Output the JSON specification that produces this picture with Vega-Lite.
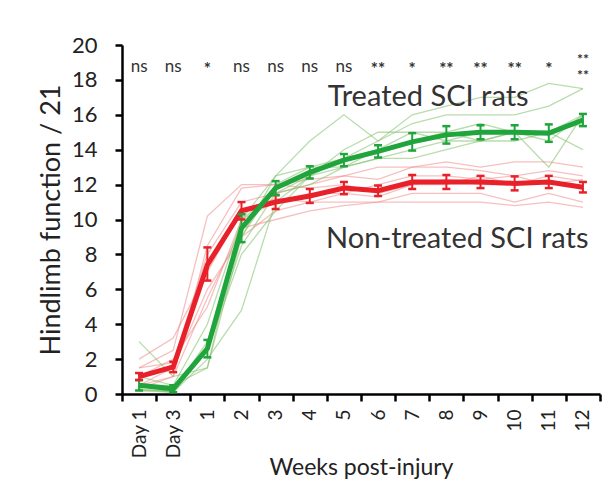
{
  "$schema": "https://vega.github.io/schema/vega-lite/v6.json",
  "width": 478,
  "height": 349,
  "autosize": {"type": "none"},
  "padding": {"left": 122, "top": 45, "right": 5, "bottom": 98},
  "background": "white",
  "config": {
    "font": "Lato",
    "view": {"stroke": null},
    "axis": {"grid": false, "domainColor": "black", "domainWidth": 2.5, "tickColor": "black", "tickWidth": 2.5, "tickSize": 7, "labelColor": "#222", "titleColor": "#222", "titleFontWeight": "normal"},
    "axisY": {"labelFontSize": 22, "labelPadding": 18, "titleFontSize": 27, "titlePadding": 6}
  },
  "resolve": {"scale": {"color": "independent"}},
  "datasets": {
    "ind": [
      {"g":"R","r":1,"t":"Day 1","v":0.5},{"g":"R","r":1,"t":"Day 3","v":1.0},{"g":"R","r":1,"t":"1","v":8.5},{"g":"R","r":1,"t":"2","v":11.8},{"g":"R","r":1,"t":"3","v":12.0},{"g":"R","r":1,"t":"4","v":12.3},{"g":"R","r":1,"t":"5","v":12.5},{"g":"R","r":1,"t":"6","v":12.3},{"g":"R","r":1,"t":"7","v":13.0},{"g":"R","r":1,"t":"8","v":13.0},{"g":"R","r":1,"t":"9","v":12.8},{"g":"R","r":1,"t":"10","v":12.5},{"g":"R","r":1,"t":"11","v":12.8},{"g":"R","r":1,"t":"12","v":12.5},
      {"g":"R","r":2,"t":"Day 1","v":1.5},{"g":"R","r":2,"t":"Day 3","v":2.5},{"g":"R","r":2,"t":"1","v":10.2},{"g":"R","r":2,"t":"2","v":12.0},{"g":"R","r":2,"t":"3","v":12.0},{"g":"R","r":2,"t":"4","v":11.8},{"g":"R","r":2,"t":"5","v":12.0},{"g":"R","r":2,"t":"6","v":11.5},{"g":"R","r":2,"t":"7","v":12.0},{"g":"R","r":2,"t":"8","v":12.0},{"g":"R","r":2,"t":"9","v":12.5},{"g":"R","r":2,"t":"10","v":12.0},{"g":"R","r":2,"t":"11","v":12.5},{"g":"R","r":2,"t":"12","v":12.2},
      {"g":"R","r":3,"t":"Day 1","v":0.5},{"g":"R","r":3,"t":"Day 3","v":1.5},{"g":"R","r":3,"t":"1","v":6.0},{"g":"R","r":3,"t":"2","v":9.0},{"g":"R","r":3,"t":"3","v":10.5},{"g":"R","r":3,"t":"4","v":11.0},{"g":"R","r":3,"t":"5","v":11.0},{"g":"R","r":3,"t":"6","v":11.0},{"g":"R","r":3,"t":"7","v":11.5},{"g":"R","r":3,"t":"8","v":11.5},{"g":"R","r":3,"t":"9","v":11.5},{"g":"R","r":3,"t":"10","v":11.0},{"g":"R","r":3,"t":"11","v":11.5},{"g":"R","r":3,"t":"12","v":11.0},
      {"g":"R","r":4,"t":"Day 1","v":1.0},{"g":"R","r":4,"t":"Day 3","v":2.0},{"g":"R","r":4,"t":"1","v":5.0},{"g":"R","r":4,"t":"2","v":10.0},{"g":"R","r":4,"t":"3","v":11.0},{"g":"R","r":4,"t":"4","v":11.5},{"g":"R","r":4,"t":"5","v":11.5},{"g":"R","r":4,"t":"6","v":12.0},{"g":"R","r":4,"t":"7","v":12.5},{"g":"R","r":4,"t":"8","v":12.5},{"g":"R","r":4,"t":"9","v":12.3},{"g":"R","r":4,"t":"10","v":12.5},{"g":"R","r":4,"t":"11","v":12.0},{"g":"R","r":4,"t":"12","v":12.3},
      {"g":"R","r":5,"t":"Day 1","v":2.0},{"g":"R","r":5,"t":"Day 3","v":3.2},{"g":"R","r":5,"t":"1","v":7.0},{"g":"R","r":5,"t":"2","v":10.5},{"g":"R","r":5,"t":"3","v":11.2},{"g":"R","r":5,"t":"4","v":11.0},{"g":"R","r":5,"t":"5","v":11.5},{"g":"R","r":5,"t":"6","v":11.3},{"g":"R","r":5,"t":"7","v":12.0},{"g":"R","r":5,"t":"8","v":12.3},{"g":"R","r":5,"t":"9","v":12.0},{"g":"R","r":5,"t":"10","v":12.0},{"g":"R","r":5,"t":"11","v":12.2},{"g":"R","r":5,"t":"12","v":11.8},
      {"g":"R","r":6,"t":"Day 1","v":0.3},{"g":"R","r":6,"t":"Day 3","v":1.0},{"g":"R","r":6,"t":"1","v":5.5},{"g":"R","r":6,"t":"2","v":9.5},{"g":"R","r":6,"t":"3","v":10.0},{"g":"R","r":6,"t":"4","v":10.5},{"g":"R","r":6,"t":"5","v":10.8},{"g":"R","r":6,"t":"6","v":11.0},{"g":"R","r":6,"t":"7","v":11.0},{"g":"R","r":6,"t":"8","v":11.0},{"g":"R","r":6,"t":"9","v":11.0},{"g":"R","r":6,"t":"10","v":10.8},{"g":"R","r":6,"t":"11","v":11.0},{"g":"R","r":6,"t":"12","v":10.7},
      {"g":"R","r":7,"t":"Day 1","v":1.5},{"g":"R","r":7,"t":"Day 3","v":1.8},{"g":"R","r":7,"t":"1","v":8.0},{"g":"R","r":7,"t":"2","v":11.0},{"g":"R","r":7,"t":"3","v":11.5},{"g":"R","r":7,"t":"4","v":12.0},{"g":"R","r":7,"t":"5","v":12.5},{"g":"R","r":7,"t":"6","v":13.0},{"g":"R","r":7,"t":"7","v":13.0},{"g":"R","r":7,"t":"8","v":13.3},{"g":"R","r":7,"t":"9","v":13.0},{"g":"R","r":7,"t":"10","v":13.3},{"g":"R","r":7,"t":"11","v":13.3},{"g":"R","r":7,"t":"12","v":13.0},
      {"g":"G","r":1,"t":"Day 1","v":3.0},{"g":"G","r":1,"t":"Day 3","v":1.0},{"g":"G","r":1,"t":"1","v":1.5},{"g":"G","r":1,"t":"2","v":10.0},{"g":"G","r":1,"t":"3","v":12.5},{"g":"G","r":1,"t":"4","v":14.5},{"g":"G","r":1,"t":"5","v":16.0},{"g":"G","r":1,"t":"6","v":14.5},{"g":"G","r":1,"t":"7","v":15.5},{"g":"G","r":1,"t":"8","v":16.0},{"g":"G","r":1,"t":"9","v":16.0},{"g":"G","r":1,"t":"10","v":16.0},{"g":"G","r":1,"t":"11","v":16.5},{"g":"G","r":1,"t":"12","v":17.5},
      {"g":"G","r":2,"t":"Day 1","v":0.3},{"g":"G","r":2,"t":"Day 3","v":0.1},{"g":"G","r":2,"t":"1","v":2.0},{"g":"G","r":2,"t":"2","v":4.8},{"g":"G","r":2,"t":"3","v":11.0},{"g":"G","r":2,"t":"4","v":12.5},{"g":"G","r":2,"t":"5","v":13.0},{"g":"G","r":2,"t":"6","v":14.0},{"g":"G","r":2,"t":"7","v":15.0},{"g":"G","r":2,"t":"8","v":15.0},{"g":"G","r":2,"t":"9","v":15.5},{"g":"G","r":2,"t":"10","v":15.0},{"g":"G","r":2,"t":"11","v":15.0},{"g":"G","r":2,"t":"12","v":14.0},
      {"g":"G","r":3,"t":"Day 1","v":0.2},{"g":"G","r":3,"t":"Day 3","v":0.2},{"g":"G","r":3,"t":"1","v":3.0},{"g":"G","r":3,"t":"2","v":9.0},{"g":"G","r":3,"t":"3","v":12.0},{"g":"G","r":3,"t":"4","v":13.0},{"g":"G","r":3,"t":"5","v":13.5},{"g":"G","r":3,"t":"6","v":14.5},{"g":"G","r":3,"t":"7","v":16.0},{"g":"G","r":3,"t":"8","v":16.5},{"g":"G","r":3,"t":"9","v":17.0},{"g":"G","r":3,"t":"10","v":17.0},{"g":"G","r":3,"t":"11","v":17.8},{"g":"G","r":3,"t":"12","v":17.5},
      {"g":"G","r":4,"t":"Day 1","v":0.5},{"g":"G","r":4,"t":"Day 3","v":0.1},{"g":"G","r":4,"t":"1","v":2.5},{"g":"G","r":4,"t":"2","v":8.5},{"g":"G","r":4,"t":"3","v":11.5},{"g":"G","r":4,"t":"4","v":12.0},{"g":"G","r":4,"t":"5","v":13.0},{"g":"G","r":4,"t":"6","v":13.5},{"g":"G","r":4,"t":"7","v":14.0},{"g":"G","r":4,"t":"8","v":14.5},{"g":"G","r":4,"t":"9","v":15.0},{"g":"G","r":4,"t":"10","v":15.0},{"g":"G","r":4,"t":"11","v":14.5},{"g":"G","r":4,"t":"12","v":16.0},
      {"g":"G","r":5,"t":"Day 1","v":1.0},{"g":"G","r":5,"t":"Day 3","v":0.5},{"g":"G","r":5,"t":"1","v":4.0},{"g":"G","r":5,"t":"2","v":10.0},{"g":"G","r":5,"t":"3","v":11.5},{"g":"G","r":5,"t":"4","v":12.5},{"g":"G","r":5,"t":"5","v":13.5},{"g":"G","r":5,"t":"6","v":14.0},{"g":"G","r":5,"t":"7","v":14.5},{"g":"G","r":5,"t":"8","v":15.0},{"g":"G","r":5,"t":"9","v":14.5},{"g":"G","r":5,"t":"10","v":15.0},{"g":"G","r":5,"t":"11","v":13.0},{"g":"G","r":5,"t":"12","v":16.0},
      {"g":"G","r":6,"t":"Day 1","v":0.2},{"g":"G","r":6,"t":"Day 3","v":0.1},{"g":"G","r":6,"t":"1","v":2.5},{"g":"G","r":6,"t":"2","v":8.0},{"g":"G","r":6,"t":"3","v":10.5},{"g":"G","r":6,"t":"4","v":12.5},{"g":"G","r":6,"t":"5","v":14.0},{"g":"G","r":6,"t":"6","v":15.0},{"g":"G","r":6,"t":"7","v":15.0},{"g":"G","r":6,"t":"8","v":14.5},{"g":"G","r":6,"t":"9","v":14.5},{"g":"G","r":6,"t":"10","v":15.0},{"g":"G","r":6,"t":"11","v":15.0},{"g":"G","r":6,"t":"12","v":15.5},
      {"g":"G","r":7,"t":"Day 1","v":0.5},{"g":"G","r":7,"t":"Day 3","v":0.5},{"g":"G","r":7,"t":"1","v":1.5},{"g":"G","r":7,"t":"2","v":9.0},{"g":"G","r":7,"t":"3","v":12.5},{"g":"G","r":7,"t":"4","v":13.0},{"g":"G","r":7,"t":"5","v":13.0},{"g":"G","r":7,"t":"6","v":13.5},{"g":"G","r":7,"t":"7","v":13.5},{"g":"G","r":7,"t":"8","v":14.0},{"g":"G","r":7,"t":"9","v":14.5},{"g":"G","r":7,"t":"10","v":14.5},{"g":"G","r":7,"t":"11","v":15.0},{"g":"G","r":7,"t":"12","v":16.0}
    ],
    "mean": [
      {"g":"R","t":"Day 1","m":1.0,"lo":0.8,"hi":1.2},{"g":"R","t":"Day 3","m":1.55,"lo":1.25,"hi":1.85},{"g":"R","t":"1","m":7.4,"lo":6.5,"hi":8.4},{"g":"R","t":"2","m":10.5,"lo":10.0,"hi":11.0},{"g":"R","t":"3","m":11.0,"lo":10.6,"hi":11.4},{"g":"R","t":"4","m":11.35,"lo":10.95,"hi":11.75},{"g":"R","t":"5","m":11.8,"lo":11.45,"hi":12.15},{"g":"R","t":"6","m":11.65,"lo":11.35,"hi":11.95},{"g":"R","t":"7","m":12.15,"lo":11.75,"hi":12.55},{"g":"R","t":"8","m":12.15,"lo":11.75,"hi":12.55},{"g":"R","t":"9","m":12.15,"lo":11.8,"hi":12.5},{"g":"R","t":"10","m":12.07,"lo":11.67,"hi":12.47},{"g":"R","t":"11","m":12.15,"lo":11.8,"hi":12.5},{"g":"R","t":"12","m":11.85,"lo":11.55,"hi":12.15},
      {"g":"G","t":"Day 1","m":0.5,"lo":0.2,"hi":0.8},{"g":"G","t":"Day 3","m":0.3,"lo":0.1,"hi":0.5},{"g":"G","t":"1","m":2.6,"lo":2.1,"hi":3.1},{"g":"G","t":"2","m":9.5,"lo":8.7,"hi":10.3},{"g":"G","t":"3","m":11.8,"lo":11.4,"hi":12.2},{"g":"G","t":"4","m":12.7,"lo":12.35,"hi":13.05},{"g":"G","t":"5","m":13.4,"lo":13.05,"hi":13.75},{"g":"G","t":"6","m":13.9,"lo":13.55,"hi":14.25},{"g":"G","t":"7","m":14.45,"lo":13.95,"hi":14.95},{"g":"G","t":"8","m":14.85,"lo":14.35,"hi":15.35},{"g":"G","t":"9","m":15.0,"lo":14.6,"hi":15.4},{"g":"G","t":"10","m":15.0,"lo":14.6,"hi":15.4},{"g":"G","t":"11","m":14.95,"lo":14.45,"hi":15.45},{"g":"G","t":"12","m":15.7,"lo":15.35,"hi":16.05}
    ],
    "sig": [
      {"t":"Day 1","s":"ns"},{"t":"Day 3","s":"ns"},{"t":"1","s":"*"},{"t":"2","s":"ns"},{"t":"3","s":"ns"},{"t":"4","s":"ns"},{"t":"5","s":"ns"},{"t":"6","s":"**"},{"t":"7","s":"*"},{"t":"8","s":"**"},{"t":"9","s":"**"},{"t":"10","s":"**"},{"t":"11","s":"*"},{"t":"12","s":"**\n**"}
    ],
    "labels": [
      {"t":"7","y":17.0,"txt":"Treated SCI rats","dx":33},
      {"t":"8","y":8.9,"txt":"Non-treated SCI rats","dx":28}
    ]
  },
  "layer": [
    {
      "data": {"name": "ind"},
      "mark": {"type": "line", "strokeWidth": 1.3, "opacity": 0.55},
      "encoding": {
        "x": {"field": "t", "type": "ordinal", "bandPosition": 0.5,
              "sort": ["Day 1","Day 3","1","2","3","4","5","6","7","8","9","10","11","12"],
              "scale": {"type": "band", "paddingInner": 0, "paddingOuter": 0},
              "axis": {"title": "Weeks post-injury", "titleFontSize": 23, "titlePadding": -2, "labelAngle": -90, "labelFontSize": 19, "labelPadding": 8, "tickBand": "extent"}},
        "y": {"field": "v", "type": "quantitative",
              "scale": {"domain": [0, 20], "nice": false},
              "axis": {"title": "Hindlimb function / 21", "tickCount": 10, "labelOverlap": false, "labelSeparation": 0}},
        "detail": {"field": "r"},
        "color": {"field": "g", "type": "nominal", "scale": {"domain": ["R","G"], "range": ["#f08a8a","#7fbf6a"]}, "legend": null}
      }
    },
    {
      "data": {"name": "mean"},
      "mark": {"type": "rule", "strokeWidth": 2},
      "encoding": {
        "x": {"field": "t", "type": "ordinal", "bandPosition": 0.5, "sort": ["Day 1","Day 3","1","2","3","4","5","6","7","8","9","10","11","12"]},
        "y": {"field": "lo", "type": "quantitative"},
        "y2": {"field": "hi"},
        "color": {"field": "g", "type": "nominal", "scale": {"domain": ["R","G"], "range": ["#e8202a","#1fa53c"]}, "legend": null}
      }
    },
    {
      "data": {"name": "mean"},
      "mark": {"type": "line", "strokeWidth": 5, "color": "#e8202a"},
      "transform": [{"filter": "datum.g == 'R'"}],
      "encoding": {
        "x": {"field": "t", "type": "ordinal", "bandPosition": 0.5, "sort": ["Day 1","Day 3","1","2","3","4","5","6","7","8","9","10","11","12"]},
        "y": {"field": "m", "type": "quantitative"}
      }
    },
    {
      "data": {"name": "mean"},
      "mark": {"type": "line", "strokeWidth": 5, "color": "#1fa53c"},
      "transform": [{"filter": "datum.g == 'G'"}],
      "encoding": {
        "x": {"field": "t", "type": "ordinal", "bandPosition": 0.5, "sort": ["Day 1","Day 3","1","2","3","4","5","6","7","8","9","10","11","12"]},
        "y": {"field": "m", "type": "quantitative"}
      }
    },
    {
      "data": {"name": "mean"},
      "mark": {"type": "tick", "orient": "horizontal", "size": 8, "thickness": 2.5, "opacity": 1},
      "encoding": {
        "x": {"field": "t", "type": "ordinal", "bandPosition": 0.5, "sort": ["Day 1","Day 3","1","2","3","4","5","6","7","8","9","10","11","12"]},
        "y": {"field": "hi", "type": "quantitative"},
        "color": {"field": "g", "type": "nominal", "scale": {"domain": ["R","G"], "range": ["#e8202a","#1fa53c"]}, "legend": null}
      }
    },
    {
      "data": {"name": "mean"},
      "mark": {"type": "tick", "orient": "horizontal", "size": 8, "thickness": 2.5, "opacity": 1},
      "encoding": {
        "x": {"field": "t", "type": "ordinal", "bandPosition": 0.5, "sort": ["Day 1","Day 3","1","2","3","4","5","6","7","8","9","10","11","12"]},
        "y": {"field": "lo", "type": "quantitative"},
        "color": {"field": "g", "type": "nominal", "scale": {"domain": ["R","G"], "range": ["#e8202a","#1fa53c"]}, "legend": null}
      }
    },
    {
      "data": {"name": "sig"},
      "transform": [{"filter": "datum.s == 'ns'"}],
      "mark": {"type": "text", "fontSize": 17, "color": "#333", "baseline": "middle"},
      "encoding": {
        "x": {"field": "t", "type": "ordinal", "bandPosition": 0.5, "sort": ["Day 1","Day 3","1","2","3","4","5","6","7","8","9","10","11","12"]},
        "y": {"datum": 18.75, "type": "quantitative"},
        "text": {"field": "s"}
      }
    },
    {
      "data": {"name": "sig"},
      "transform": [{"filter": "datum.s != 'ns' && datum.t != '12'"}],
      "mark": {"type": "text", "fontSize": 17, "fontWeight": "bold", "color": "#333", "baseline": "top"},
      "encoding": {
        "x": {"field": "t", "type": "ordinal", "bandPosition": 0.5, "sort": ["Day 1","Day 3","1","2","3","4","5","6","7","8","9","10","11","12"]},
        "y": {"datum": 19.05, "type": "quantitative"},
        "text": {"field": "s"}
      }
    },
    {
      "data": {"name": "sig"},
      "transform": [{"filter": "datum.t == '12'"}],
      "mark": {"type": "text", "fontSize": 14, "fontWeight": "bold", "color": "#333", "baseline": "top", "lineBreak": "\n", "lineHeight": 16},
      "encoding": {
        "x": {"field": "t", "type": "ordinal", "bandPosition": 0.5, "sort": ["Day 1","Day 3","1","2","3","4","5","6","7","8","9","10","11","12"]},
        "y": {"datum": 19.55, "type": "quantitative"},
        "text": {"field": "s"}
      }
    },
    {
      "data": {"name": "labels"},
      "mark": {"type": "text", "fontSize": 29, "color": "#333", "baseline": "middle"},
      "encoding": {
        "x": {"field": "t", "type": "ordinal", "sort": ["Day 1","Day 3","1","2","3","4","5","6","7","8","9","10","11","12"]},
        "y": {"field": "y", "type": "quantitative"},
        "xOffset": {"field": "dx", "type": "quantitative", "scale": null},
        "text": {"field": "txt"}
      }
    }
  ]
}
